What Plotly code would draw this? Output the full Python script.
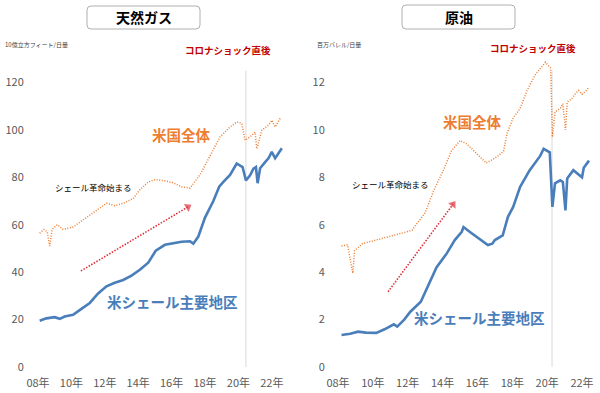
import plotly.graph_objects as go

W, H = 600, 393

# ---------------- data ----------------
tick_years = [2008, 2010, 2012, 2014, 2016, 2018, 2020, 2022]
tick_labels = ["08年", "10年", "12年", "14年", "16年", "18年", "20年", "22年"]

# Natural gas (billion cubic feet / day)
gas_shale_t = [2008.1, 2008.5, 2009.0, 2009.3, 2009.6, 2010.1, 2010.6, 2011.1, 2011.6, 2012.1, 2012.6,
               2013.1, 2013.6, 2014.1, 2014.6, 2015.05, 2015.6, 2016.1, 2016.6, 2017.1, 2017.3, 2017.6,
               2018.0, 2018.5, 2018.85, 2019.1, 2019.5, 2019.9, 2020.1, 2020.25, 2020.45, 2020.7,
               2020.9, 2021.05, 2021.15, 2021.3, 2021.6, 2021.8, 2022.0, 2022.2, 2022.6]
gas_shale_v = [19.5, 20.5, 21.0, 20.3, 21.3, 22.0, 24.5, 27.0, 31.0, 34.0, 35.5,
               36.7, 38.5, 41.0, 44.0, 49.0, 51.5, 52.3, 52.8, 53.0, 52.0, 55.0,
               63.0, 70.0, 76.0, 78.0, 81.0, 85.8, 85.0, 84.3, 78.7, 80.8,
               83.6, 84.3, 77.5, 83.8, 86.4, 88.0, 90.7, 88.0, 92.2]

gas_total_t = [2008.1, 2008.35, 2008.55, 2008.7, 2008.85, 2009.15, 2009.5, 2010.1, 2010.5, 2011.1,
               2011.7, 2012.1, 2012.6, 2013.1, 2013.7, 2014.1, 2014.6, 2015.05, 2015.6, 2016.1,
               2016.6, 2017.1, 2017.7, 2018.1, 2018.5, 2018.9, 2019.5, 2019.9, 2020.2, 2020.4,
               2020.7, 2021.0, 2021.1, 2021.4, 2021.8, 2022.0, 2022.2, 2022.5]
gas_total_v = [56.4, 58.0, 57.0, 51.0, 58.0, 60.0, 58.0, 59.0, 61.0, 64.0,
               67.0, 69.0, 68.0, 69.0, 71.0, 74.7, 78.0, 79.0, 78.5, 77.6,
               76.0, 75.4, 81.0, 86.4, 92.2, 97.0, 101.2, 103.3, 102.7, 95.6,
               97.0, 99.0, 92.0, 99.8, 101.9, 104.0, 101.2, 104.8]

# Crude oil (million barrels / day)
oil_shale_t = [2008.2, 2008.7, 2009.15, 2009.6, 2010.2, 2010.7, 2011.2, 2011.4, 2011.8, 2012.15,
               2012.75, 2013.2, 2013.65, 2014.25, 2014.7, 2015.1, 2015.2, 2015.55, 2016.25, 2016.6,
               2016.85, 2017.0, 2017.45, 2017.75, 2018.05, 2018.45, 2019.0, 2019.6, 2019.8, 2019.95,
               2020.15, 2020.3, 2020.45, 2020.75, 2020.9, 2021.05, 2021.15, 2021.5, 2022.0, 2022.1,
               2022.4]
oil_shale_v = [1.35, 1.40, 1.49, 1.45, 1.44, 1.60, 1.80, 1.70, 2.00, 2.33,
               2.75, 3.45, 4.20, 4.80, 5.35, 5.70, 5.90, 5.70, 5.35, 5.14,
               5.20, 5.35, 5.55, 6.33, 6.75, 7.60, 8.30, 8.90, 9.20, 9.15,
               9.05, 6.75, 7.74, 7.87, 7.80, 6.60, 7.95, 8.30, 8.00, 8.40,
               8.70]

oil_total_t = [2008.2, 2008.55, 2008.85, 2008.95, 2009.4, 2010.2, 2010.7, 2011.2, 2011.7, 2012.25,
               2012.7, 2013.0, 2013.5, 2014.05, 2014.5, 2015.0, 2015.4, 2015.95, 2016.5, 2017.1,
               2017.5, 2017.7, 2018.05, 2018.45, 2018.85, 2019.3, 2019.9, 2020.2, 2020.3, 2020.45,
               2020.75, 2020.9, 2021.05, 2021.15, 2021.4, 2021.6, 2021.8, 2022.0, 2022.25, 2022.4]
oil_total_v = [5.10, 5.15, 3.95, 4.90, 5.20, 5.35, 5.45, 5.55, 5.65, 5.77,
               6.20, 6.50, 7.45, 8.30, 9.10, 9.55, 9.40, 9.00, 8.60, 8.85,
               9.10, 9.85, 10.5, 10.9, 11.66, 12.3, 12.85, 12.6, 9.70, 10.75,
               10.9, 11.1, 10.0, 11.17, 11.3, 11.5, 11.66, 11.5, 11.66, 11.8]

# trend arrows ("shale revolution" begins): [start, end] in data coordinates
gas_arrow_t = [2010.57, 2016.98]
gas_arrow_v = [40.5, 67.5]
oil_arrow_t = [2010.87, 2014.6]
oil_arrow_v = [3.17, 6.86]

covid_year_left = 2020.45
covid_year_right = 2020.28

# ---------------- styling ----------------
BLUE = "#4a7ebb"
ORANGE = "#ed7d31"
RED = "#c00000"
ARROW = "#e0303a"
TICK = "#595959"
FONT = "Noto Sans CJK JP"


def px(x):
    return x / W


def py(y):
    return (H - y) / H


fig = go.Figure()

DOT = "1px,1.6px"
fig.add_trace(go.Scatter(x=gas_total_t, y=gas_total_v, mode="lines",
                         line=dict(color=ORANGE, width=1.5, dash=DOT),
                         xaxis="x", yaxis="y", showlegend=False, hoverinfo="skip"))
fig.add_trace(go.Scatter(x=gas_shale_t, y=gas_shale_v, mode="lines",
                         line=dict(color=BLUE, width=2.6),
                         xaxis="x", yaxis="y", showlegend=False, hoverinfo="skip"))
fig.add_trace(go.Scatter(x=oil_total_t, y=oil_total_v, mode="lines",
                         line=dict(color=ORANGE, width=1.5, dash=DOT),
                         xaxis="x2", yaxis="y2", showlegend=False, hoverinfo="skip"))
fig.add_trace(go.Scatter(x=oil_shale_t, y=oil_shale_v, mode="lines",
                         line=dict(color=BLUE, width=2.6),
                         xaxis="x2", yaxis="y2", showlegend=False, hoverinfo="skip"))

for at, av, xa, ya in [(gas_arrow_t, gas_arrow_v, "x", "y"), (oil_arrow_t, oil_arrow_v, "x2", "y2")]:
    fig.add_trace(go.Scatter(x=at, y=av, mode="lines+markers",
                             line=dict(color=ARROW, width=1.6, dash="1.5px,1.5px"),
                             marker=dict(symbol="triangle-up", size=[0, 8], color=ARROW,
                                         angleref="previous", line=dict(width=0)),
                             xaxis=xa, yaxis=ya, showlegend=False, hoverinfo="skip"))

xcommon = dict(tickmode="array", tickvals=tick_years, ticktext=tick_labels,
               showgrid=False, zeroline=False, showline=False, automargin=False,
               ticks="outside", ticklen=6, tickcolor="rgba(0,0,0,0)",
               tickfont=dict(size=11, color=TICK, family=FONT))
ycommon = dict(showgrid=False, zeroline=False, showline=False, automargin=False,
               ticks="outside", ticklen=3, tickcolor="rgba(0,0,0,0)",
               tickfont=dict(size=11, color=TICK, family=FONT))

# pixel scales: left px = 38 + (yr-2008)*16.7, value 0 at 367, 2.372 px/unit
#               right px = 338 + (yr-2008)*17.43, value 0 at 367, 23.72 px/unit
lx0, lx1 = 30, 292
rx0, rx1 = 331, 596
ltop, rtop = 125, 13.2
fig.update_layout(
    xaxis=dict(domain=[px(lx0), px(lx1)], anchor="y",
               range=[2008 + (lx0 - 38) / 16.7, 2008 + (lx1 - 38) / 16.7], **xcommon),
    yaxis=dict(domain=[py(367), py(367 - ltop * 2.372)], anchor="x", range=[0, ltop],
               tickvals=[0, 20, 40, 60, 80, 100, 120], **ycommon),
    xaxis2=dict(domain=[px(rx0), px(rx1)], anchor="y2",
                range=[2008 + (rx0 - 338) / 17.43, 2008 + (rx1 - 338) / 17.43], **xcommon),
    yaxis2=dict(domain=[py(367), py(367 - rtop * 23.72)], anchor="x2", range=[0, rtop],
                tickvals=[0, 2, 4, 6, 8, 10, 12], **ycommon),
    width=W, height=H,
    margin=dict(l=0, r=0, t=0, b=0, pad=0, autoexpand=False),
    paper_bgcolor="white", plot_bgcolor="white",
    font=dict(family=FONT),
)

# COVID vertical lines
fig.add_shape(type="line", xref="x", yref="y", x0=covid_year_left, x1=covid_year_left,
              y0=0, y1=125, line=dict(color="#d9d9d9", width=1), layer="below")
fig.add_shape(type="line", xref="x2", yref="y2", x0=covid_year_right, x1=covid_year_right,
              y0=0, y1=12.5, line=dict(color="#d9d9d9", width=1), layer="below")


def rounded_box(x0, y0, x1, y1, r=4):
    X0, X1 = px(x0), px(x1)
    Y0, Y1 = py(y0), py(y1)
    rx, ry = r / W, r / H
    path = (f"M {X0+rx},{Y0} L {X1-rx},{Y0} Q {X1},{Y0} {X1},{Y0-ry} "
            f"L {X1},{Y1+ry} Q {X1},{Y1} {X1-rx},{Y1} "
            f"L {X0+rx},{Y1} Q {X0},{Y1} {X0},{Y1+ry} "
            f"L {X0},{Y0-ry} Q {X0},{Y0} {X0+rx},{Y0} Z")
    fig.add_shape(type="path", xref="paper", yref="paper", path=path,
                  line=dict(color="#b0b0b0", width=1), fillcolor="white")


rounded_box(87, 6, 200, 29)
rounded_box(402, 5, 515, 29)


def text(x, y, s, size, color, bold=False):
    fig.add_annotation(xref="paper", yref="paper", x=px(x), y=py(y), text=(f"<b>{s}</b>" if bold else s),
                       showarrow=False, xanchor="center", yanchor="middle",
                       font=dict(size=size, color=color, family=FONT))


text(143.5, 17.5, "天然ガス", 14, "#000000", bold=True)
text(458.5, 17, "原油", 14, "#000000", bold=True)

fig.add_annotation(xref="paper", yref="paper", x=px(3), y=py(45), text="10億立方フィート/日量",
                   showarrow=False, xanchor="left", yanchor="middle",
                   font=dict(size=6, color="#404040", family=FONT))
fig.add_annotation(xref="paper", yref="paper", x=px(315), y=py(45), text="百万バレル/日量",
                   showarrow=False, xanchor="left", yanchor="middle",
                   font=dict(size=6, color="#404040", family=FONT))

text(228, 50, "コロナショック直後", 9.5, RED, bold=True)
text(533, 48, "コロナショック直後", 9.5, RED, bold=True)

text(181, 134, "米国全体", 14.5, ORANGE, bold=True)
text(472.5, 121, "米国全体", 14.5, ORANGE, bold=True)

text(93, 187, "シェール革命始まる", 8.5, "#000000")
text(390.5, 184, "シェール革命始まる", 8.5, "#000000")

text(172, 301, "米シェール主要地区", 14.5, BLUE, bold=True)
text(479, 317, "米シェール主要地区", 14.5, BLUE, bold=True)

fig.write_html("out.html", config={"displayModeBar": False, "staticPlot": True},
               post_script="document.body.style.margin='0';document.body.style.overflow='hidden';")
